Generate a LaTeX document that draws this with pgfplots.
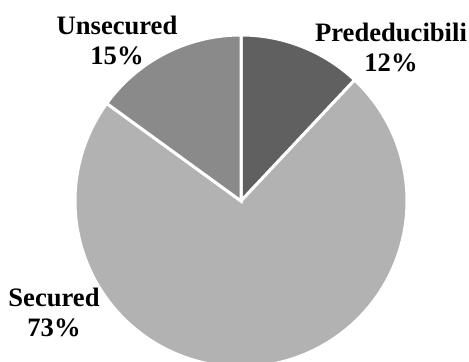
\documentclass[border=0pt]{standalone}
\usepackage{fontspec}
\setmainfont{Liberation Serif}
\usepackage{pgfplots}
\usepackage{pgfplotstable}
\pgfplotsset{compat=1.18}
\definecolor{cPre}{HTML}{606060}
\definecolor{cSec}{HTML}{B2B2B2}
\definecolor{cUns}{HTML}{8A8A8A}
\pgfplotstableread{
label value
Prededucibili 12
Secured 73
Unsecured 15
}\piedata
\pgfplotstablegetelem{0}{value}\of\piedata \let\vA\pgfplotsretval
\pgfplotstablegetelem{1}{value}\of\piedata \let\vB\pgfplotsretval
\pgfplotstablegetelem{2}{value}\of\piedata \let\vC\pgfplotsretval
\pgfmathsetmacro\aA{90}
\pgfmathsetmacro\aB{\aA-3.6*\vA}
\pgfmathsetmacro\aC{\aB-3.6*\vB}
\pgfmathsetmacro\aD{\aC-3.6*\vC}
\tikzset{lbl/.style={font=\fontsize{13.3}{15}\selectfont\bfseries, align=center, inner sep=0pt}}
\begin{document}
\begin{tikzpicture}
\begin{axis}[
  at={(0,0)}, anchor=south west,
  x=0.5pt, y=0.5pt,
  xmin=-241, xmax=228, ymin=-161, ymax=201,
  enlargelimits=false,
  hide axis, clip=false,
]
\addplot[data cs=polar, fill=cPre, draw=white, line width=1.5pt, domain=\aB:\aA, samples=60] (x, 166) -- (axis cs:0,0) -- cycle;
\addplot[data cs=polar, fill=cSec, draw=white, line width=1.5pt, domain=\aC:\aB, samples=200] (x, 166) -- (axis cs:0,0) -- cycle;
\addplot[data cs=polar, fill=cUns, draw=white, line width=1.5pt, domain=\aD:\aC, samples=60] (x, 166) -- (axis cs:0,0) -- cycle;
\node[lbl] at (axis cs:-124,161) {Unsecured\\15\%};
\node[lbl] at (axis cs:150,154) {Prededucibili\\12\%};
\node[lbl] at (axis cs:-187,-111) {Secured\\73\%};
\end{axis}
\pgfresetboundingbox
\path[use as bounding box] (0,0) rectangle (234.5pt,181pt);
\end{tikzpicture}
\end{document}
